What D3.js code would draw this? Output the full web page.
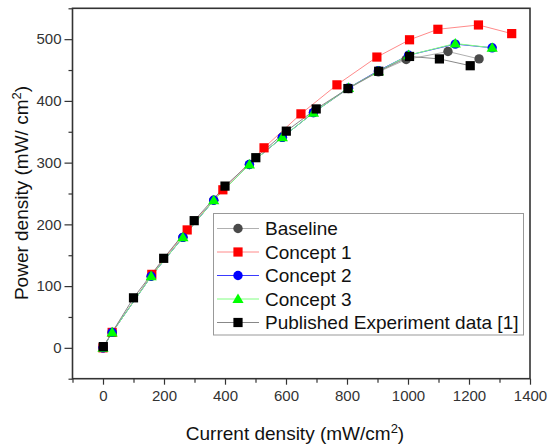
<!DOCTYPE html>
<html><head><meta charset="utf-8">
<script src="https://cdn.jsdelivr.net/npm/d3@7"></script>
<style>body{margin:0;background:#fff;} svg{display:block;font-family:"Liberation Sans",Arial,sans-serif;}</style>
</head><body>
<svg id="c" width="548" height="447"></svg>
<script>
const seriesNames = ["Baseline","Concept 1","Concept 2","Concept 3","Published Experiment data [1]"];
const baselineX = [0,30,158,262,363,480,588,690,805,903,994,1131,1233];
const baselineY = [0,25,116,179,239,297,341,381,420,447,467,480,468];
const concept1X = [0,30,160,276,393,528,649,767,898,1005,1098,1231,1340];
const concept1Y = [0,25,119,191,256,324,379,426,471,499,516,523,509];
const concept2X = [0,30,158,262,363,480,588,690,805,903,1002,1155,1276];
const concept2Y = [0,25,116,179,239,297,341,381,421,449,474,492,486];
const concept3X = [0,30,158,262,363,480,588,690,805,903,1002,1155,1276];
const concept3Y = [0,25,116,179,239,297,341,381,421,448,474,493,486];
const publishedX = [1,100,199,299,400,501,601,699,803,904,1005,1103,1204];
const publishedY = [2,81,145,206,262,308,351,387,420,448,472,468,457];
const xTicks = [0,200,400,600,800,1000,1200,1400];
const yTicks = [0,100,200,300,400,500];

const svg = d3.select("#c");
const L=72.5, R=530, T=8.3, B=378.7;
const x = d3.scaleLinear().domain([-100,1400]).range([L,R]);
const y = d3.scaleLinear().domain([-50,550]).range([B,T]);

const series = [
  {name:seriesNames[0], xs:baselineX, ys:baselineY, line:"#b0b0b0", fill:"#4a4a4a", shape:"circle"},
  {name:seriesNames[1], xs:concept1X, ys:concept1Y, line:"#ff8a8a", fill:"#ff0000", shape:"square"},
  {name:seriesNames[2], xs:concept2X, ys:concept2Y, line:"#3a3aff", fill:"#0000ff", shape:"circle"},
  {name:seriesNames[3], xs:concept3X, ys:concept3Y, line:"#80ff80", fill:"#00ff00", shape:"triangle"},
  {name:seriesNames[4], xs:publishedX, ys:publishedY, line:"#888888", fill:"#000000", shape:"square"}
];

function marker(g, shape, fill, cx, cy){
  if(shape==="circle") g.append("circle").attr("cx",cx).attr("cy",cy).attr("r",4.7).attr("fill",fill);
  else if(shape==="square") g.append("rect").attr("x",cx-4.6).attr("y",cy-4.6).attr("width",9.2).attr("height",9.2).attr("fill",fill);
  else g.append("path").attr("d",`M${cx},${cy-5.6}L${cx+5.6},${cy+4}L${cx-5.6},${cy+4}Z`).attr("fill",fill);
}

const ink="#333";
// frame
svg.append("rect").attr("x",L).attr("y",T).attr("width",R-L).attr("height",B-T).attr("fill","none").attr("stroke",ink).attr("stroke-width",1.6);

// axes
const xAxis = svg.append("g").attr("transform",`translate(0,${B})`)
  .call(d3.axisBottom(x).tickValues(xTicks).tickSize(6).tickPadding(6).tickFormat(d3.format("d")));
const yAxis = svg.append("g").attr("transform",`translate(${L},0)`)
  .call(d3.axisLeft(y).tickValues(yTicks).tickSize(8).tickPadding(3).tickFormat(d3.format("d")));
[xAxis,yAxis].forEach(a=>{a.select(".domain").remove(); a.selectAll("line").attr("stroke",ink).attr("stroke-width",1.2); a.selectAll("text").attr("fill",ink).attr("font-size",15).attr("font-family","Liberation Sans, Arial, sans-serif");});
// minor ticks
svg.append("g").attr("transform",`translate(0,${B})`)
  .call(d3.axisBottom(x).tickValues(d3.range(-100,1401,200)).tickSize(4).tickFormat(""))
  .call(g=>{g.select(".domain").remove(); g.selectAll("line").attr("stroke",ink).attr("stroke-width",1.2);});
svg.append("g").attr("transform",`translate(${L},0)`)
  .call(d3.axisLeft(y).tickValues(d3.range(-50,551,100)).tickSize(4).tickFormat(""))
  .call(g=>{g.select(".domain").remove(); g.selectAll("line").attr("stroke",ink).attr("stroke-width",1.2);});

// series lines then markers
const line = d3.line().x(d=>x(d[0])).y(d=>y(d[1]));
series.forEach(s=>{
  const pts = s.xs.map((v,i)=>[v,s.ys[i]]);
  svg.append("path").datum(pts).attr("d",line).attr("fill","none").attr("stroke",s.line).attr("stroke-width",1);
});
series.forEach(s=>{
  const g = svg.append("g");
  s.xs.forEach((v,i)=>marker(g,s.shape,s.fill,x(v),y(s.ys[i])));
});

// legend
const lg = svg.append("g");
lg.append("rect").attr("x",213.5).attr("y",213.5).attr("width",310).attr("height",121.5).attr("fill","#fff").attr("stroke","#999").attr("stroke-width",1);
series.forEach((s,i)=>{
  const cy = 228.5 + i*23.5;
  lg.append("line").attr("x1",217).attr("x2",259).attr("y1",cy).attr("y2",cy).attr("stroke",s.line).attr("stroke-width",1);
  marker(lg,s.shape,s.fill,238,cy);
  lg.append("text").attr("x",265).attr("y",cy+6.5).attr("font-size",19).attr("fill","#111").text(s.name);
});

// axis titles
const xt = svg.append("text").attr("x",295).attr("y",440).attr("text-anchor","middle").attr("font-size",19).attr("fill","#111");
xt.append("tspan").text("Current density (mW/cm");
xt.append("tspan").attr("font-size",13).attr("dy",-7).text("2");
xt.append("tspan").attr("dy",7).text(")");
const yt = svg.append("text").attr("transform","translate(28,193) rotate(-90)").attr("text-anchor","middle").attr("font-size",19).attr("fill","#111");
yt.append("tspan").text("Power density (mW/ cm");
yt.append("tspan").attr("font-size",13).attr("dy",-7).text("2");
yt.append("tspan").attr("dy",7).text(")");
</script>
</body></html>
